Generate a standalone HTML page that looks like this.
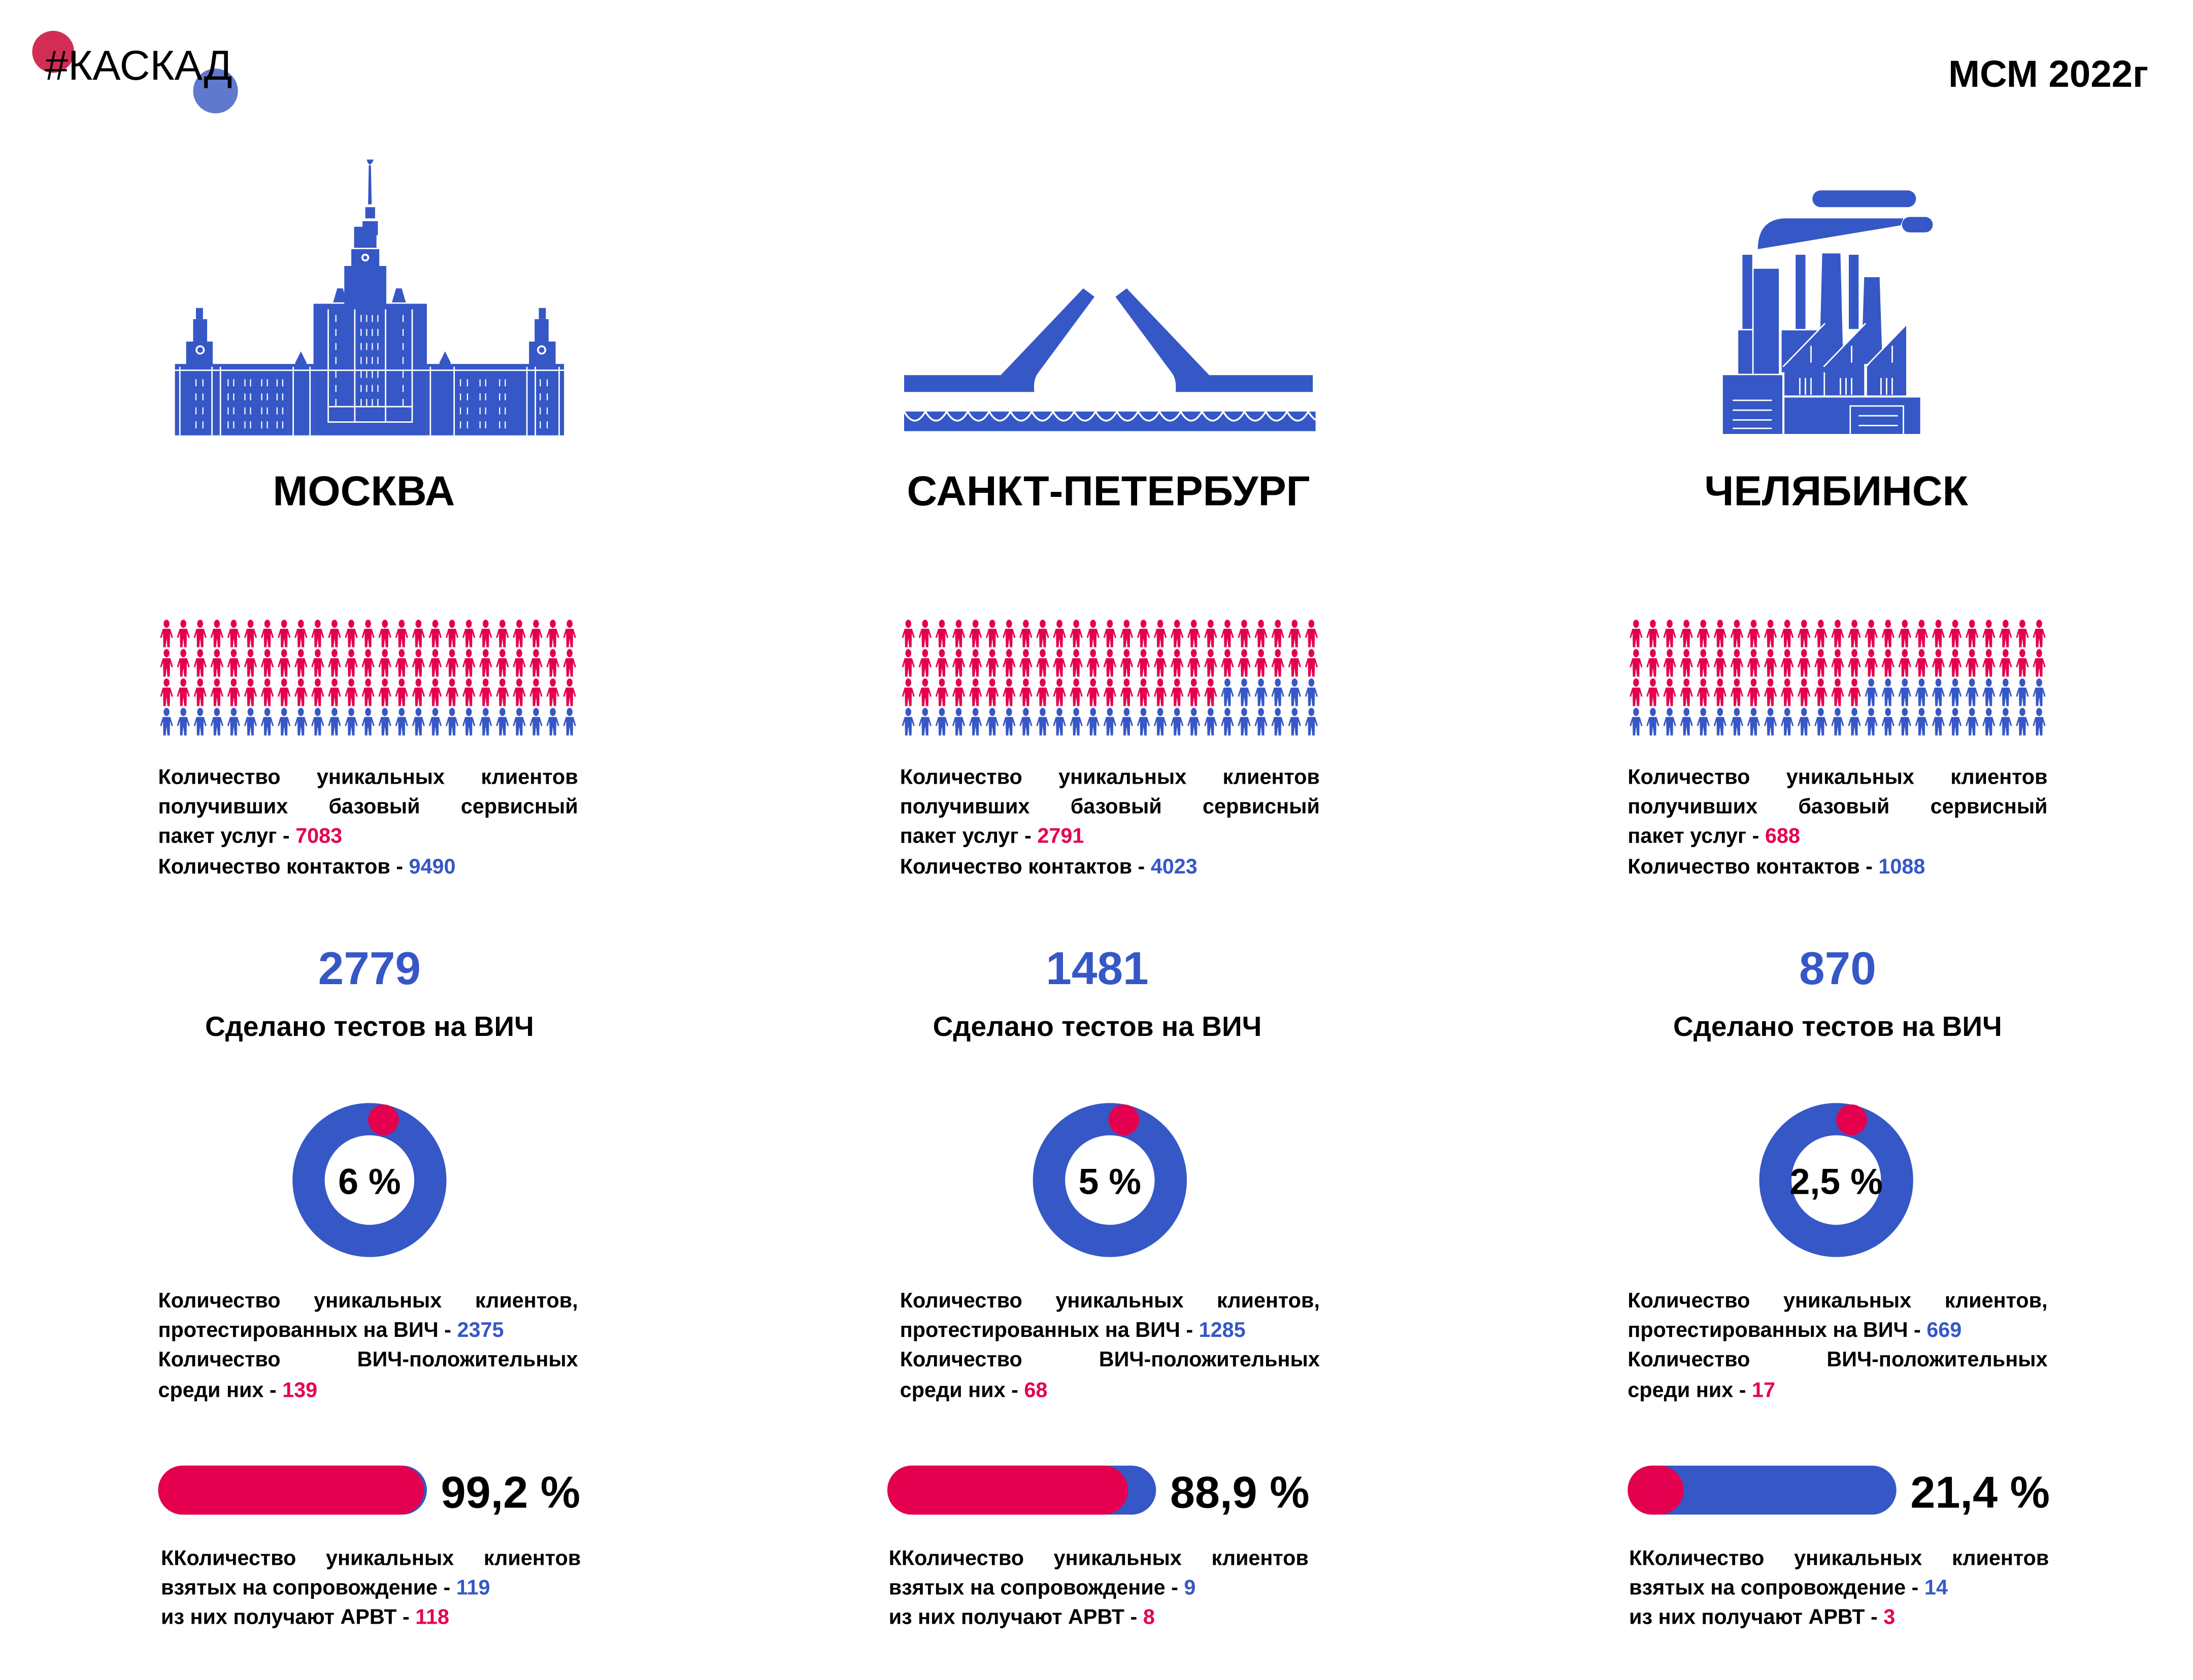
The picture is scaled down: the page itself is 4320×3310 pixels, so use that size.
<!DOCTYPE html>
<html><head><meta charset="utf-8">
<style>
html,body{margin:0;padding:0;background:#fff;width:4320px;height:3308px;overflow:hidden}
#r{position:absolute;left:0;top:0;width:1570px;height:1200px;transform:scale(2.757,2.758);transform-origin:0 0;font-family:"Liberation Sans","DejaVu Sans",sans-serif;color:#000}
.a{position:absolute}
.city{font-weight:bold;font-size:30px;text-align:center;width:500px;line-height:30px}
.p{position:absolute;width:300px;font-weight:bold;font-size:15px;line-height:21.2px}
.j{text-align:justify;text-align-last:justify;white-space:nowrap}
.p div{height:21.2px}
.b{color:#3657c6}.rd{color:#e4004f}
.num{position:absolute;width:300px;text-align:center;font-weight:bold;font-size:33px;color:#3657c6;line-height:34px}
.sub{position:absolute;width:300px;text-align:center;font-weight:bold;font-size:20px;line-height:24px}
.pct{position:absolute;font-weight:bold;font-size:32px;line-height:34px}
.dn{position:absolute;width:110px;text-align:center;font-weight:bold;font-size:26px;line-height:28px}
</style></head><body><div id="r">
<svg class="a" style="left:0;top:0" width="1570" height="1200" viewBox="0 0 1570 1200">
<defs>
<g id="man"><ellipse cx="6" cy="3.6" rx="2.1" ry="2.9"/><path d="M3.3,7.2 L8.7,7.2 L10.6,13.4 L9.6,13.8 L8.5,10.2 L8.3,20.4 L6.6,20.4 L6.1,14.6 L5.9,14.6 L5.4,20.4 L3.7,20.4 L3.5,10.2 L2.4,13.8 L1.4,13.4 Z"/></g>
<pattern id="pr" x="113" y="0" width="12" height="21" patternUnits="userSpaceOnUse"><use href="#man" fill="#e4004f"/></pattern>
<pattern id="pb" x="113" y="0" width="12" height="21" patternUnits="userSpaceOnUse"><use href="#man" fill="#3657c6"/></pattern>
<pattern id="pr2" x="643" y="0" width="12" height="21" patternUnits="userSpaceOnUse"><use href="#man" fill="#e4004f"/></pattern>
<pattern id="pb2" x="643" y="0" width="12" height="21" patternUnits="userSpaceOnUse"><use href="#man" fill="#3657c6"/></pattern>
<pattern id="pr3" x="1163" y="0" width="12" height="21" patternUnits="userSpaceOnUse"><use href="#man" fill="#e4004f"/></pattern>
<pattern id="pb3" x="1163" y="0" width="12" height="21" patternUnits="userSpaceOnUse"><use href="#man" fill="#3657c6"/></pattern>
</defs>
<circle cx="38" cy="37" r="15" fill="#d22e55"/>
<circle cx="154" cy="65" r="16" fill="#6079cc"/>
<text x="32" y="57" font-family="Liberation Sans, sans-serif" font-size="30">#КАСКАД</text>
<text x="1535" y="62" text-anchor="end" font-family="Liberation Sans, sans-serif" font-weight="bold" font-size="27">МСМ 2022г</text>

<g transform="translate(0,442)">
<rect x="113" y="0" width="300" height="63" fill="url(#pr)"/>
<rect x="113" y="63" width="300" height="21" fill="url(#pb)"/>
<rect x="643" y="0" width="300" height="42" fill="url(#pr2)"/>
<rect x="643" y="42" width="228" height="21" fill="url(#pr2)"/>
<rect x="871" y="42" width="72" height="21" fill="url(#pb2)"/>
<rect x="643" y="63" width="300" height="21" fill="url(#pb2)"/>
<rect x="1163" y="0" width="300" height="42" fill="url(#pr3)"/>
<rect x="1163" y="42" width="168" height="21" fill="url(#pr3)"/>
<rect x="1331" y="42" width="132" height="21" fill="url(#pb3)"/>
<rect x="1163" y="63" width="300" height="21" fill="url(#pb3)"/>
</g>

<g fill="#3657c6">
<path d="M262,114 Q264,121 267,114 Z"/>
<polygon points="263.5,118 265,118 265.6,146 263,146"/>
<rect x="261" y="148" width="7" height="8"/>
<rect x="259" y="158" width="11" height="10"/>
<rect x="253" y="162" width="16" height="15"/>
<rect x="251" y="178" width="20" height="39"/>
<rect x="246" y="190" width="8" height="27"/>
<rect x="268" y="190" width="8" height="27"/>
<polygon points="238,216 241,206 245,206 248,216"/>
<polygon points="280,216 283,206 287,206 290,216"/>
<rect x="224" y="217" width="81" height="94"/>
<rect x="125" y="260" width="99" height="51"/>
<rect x="305" y="260" width="98" height="51"/>
<rect x="133" y="244" width="19" height="18"/>
<rect x="378" y="244" width="19" height="18"/>
<rect x="138" y="228" width="10" height="16"/>
<rect x="382" y="228" width="10" height="16"/>
<rect x="140" y="220" width="5" height="8"/>
<rect x="385" y="220" width="5" height="8"/>
<polygon points="211,302 211,259 215,251 219,259 219,302"/>
<polygon points="314,302 314,259 318,251 322,259 322,302"/>
</g>
<g fill="#fff">
<circle cx="261" cy="184" r="2.8"/><circle cx="261" cy="184" r="1.4" fill="#3657c6"/>
<circle cx="143" cy="250" r="3.3"/><circle cx="143" cy="250" r="2" fill="#3657c6"/>
<circle cx="387" cy="250" r="3.3"/><circle cx="387" cy="250" r="2" fill="#3657c6"/>
<rect x="125" y="264" width="278" height="1"/>
<rect x="234" y="221" width="1" height="80"/><rect x="294" y="221" width="1" height="80"/>
<rect x="253" y="221" width="1" height="80"/><rect x="275" y="221" width="1" height="80"/>
<rect x="234" y="301" width="61" height="1"/><rect x="234" y="290" width="61" height="1"/>
<rect x="128" y="262" width="1" height="49"/><rect x="151" y="262" width="1" height="49"/>
<rect x="157" y="262" width="1" height="49"/><rect x="209" y="262" width="1" height="49"/>
<rect x="221" y="262" width="1" height="49"/><rect x="307" y="262" width="1" height="49"/>
<rect x="324" y="262" width="1" height="49"/><rect x="376" y="262" width="1" height="49"/>
<rect x="382" y="262" width="1" height="49"/><rect x="399" y="262" width="1" height="49"/>
</g>
<g stroke="#fff" stroke-width="0.8" stroke-dasharray="5,5" fill="none">
<path d="M240,225 V290 M258,225 V290 M262,225 V290 M266,225 V290 M270,225 V290 M288,225 V290"/>
<path d="M140,271 V310 M145,271 V310 M163,271 V310 M167,271 V310 M175,271 V310 M179,271 V310 M187,271 V310 M191,271 V310 M198,271 V310 M202,271 V310"/>
<path d="M329,271 V310 M334,271 V310 M343,271 V310 M347,271 V310 M357,271 V310 M361,271 V310 M386,271 V310 M391,271 V310"/>
</g>

<g fill="#3657c6">
<path d="M646,268 H715 L774,206 L782,212 L742,266 Q738,271 739,280 H646 Z"/>
<path d="M938,268 H864 L805,206 L797,212 L837,266 Q841,271 840,280 H938 Z"/>
<rect x="646" y="294" width="294" height="14"/>
</g>
<g fill="none" stroke="#fff" stroke-width="1.3">
<path d="M646,294 q7.6,13 15.2,0 q7.6,13 15.2,0 q7.6,13 15.2,0 q7.6,13 15.2,0 q7.6,13 15.2,0 q7.6,13 15.2,0 q7.6,13 15.2,0 q7.6,13 15.2,0 q7.6,13 15.2,0 q7.6,13 15.2,0 q7.6,13 15.2,0 q7.6,13 15.2,0 q7.6,13 15.2,0 q7.6,13 15.2,0 q7.6,13 15.2,0 q7.6,13 15.2,0 q7.6,13 15.2,0 q7.6,13 15.2,0 q7.6,13 15.2,0 q7.6,13 15.2,0"/>
</g>

<g fill="#3657c6">
<rect x="1295" y="136" width="74" height="12" rx="6"/>
<rect x="1359" y="155" width="22" height="11" rx="5.5"/>
<path d="M1256,178 Q1256,157 1275,156 H1360 L1358,161 Z"/>
<rect x="1245" y="182" width="7" height="53"/>
<rect x="1253" y="192" width="18" height="75"/>
<rect x="1283" y="182" width="7" height="53"/>
<polygon points="1302,181 1315,181 1317,260 1300,260"/>
<rect x="1321" y="182" width="7" height="53"/>
<polygon points="1332,198 1343,198 1345,260 1330,260"/>
<rect x="1242" y="236" width="10" height="31"/>
<rect x="1273" y="236" width="32" height="30"/>
<rect x="1231" y="268" width="43" height="42"/>
<rect x="1275" y="284" width="97" height="26"/>
<polygon points="1275,262 1303,232 1303,283 1275,283"/>
<polygon points="1304,262 1332,232 1332,283 1304,283"/>
<polygon points="1334,262 1362,232 1362,283 1334,283"/>
</g>
<g stroke="#fff" stroke-width="1" fill="none">
<path d="M1238,286 H1266 M1238,293 H1266 M1238,300 H1266 M1238,306 H1266"/>
<path d="M1274,262 L1304,231 M1303,262 L1333,231 M1333,262 L1363,231"/>
<path d="M1274,283 H1372 M1274,266 V310"/>
<path d="M1294,247 V259 M1323,247 V259 M1352,247 V259 M1286,270 V282 M1290,270 V282 M1294,270 V282 M1315,270 V282 M1319,270 V282 M1323,270 V282 M1344,270 V282 M1348,270 V282 M1352,270 V282"/>
<path d="M1322,310 V290 H1360 V310 M1328,297 H1356 M1328,304 H1356"/>
</g>

<g>
<circle cx="264" cy="843" r="43.5" fill="none" stroke="#3657c6" stroke-width="23"/>
<circle cx="274" cy="800" r="11" fill="#e4004f"/>
<circle cx="793" cy="843" r="43.5" fill="none" stroke="#3657c6" stroke-width="23"/>
<circle cx="803" cy="800" r="11" fill="#e4004f"/>
<circle cx="1312" cy="843" r="43.5" fill="none" stroke="#3657c6" stroke-width="23"/>
<circle cx="1323" cy="800" r="11" fill="#e4004f"/>
</g>
<rect x="113" y="1047" width="192" height="35" rx="17.5" fill="#3657c6"/>
<rect x="113" y="1047" width="190" height="35" rx="17.5" fill="#e4004f"/>
<rect x="634" y="1047" width="192" height="35" rx="17.5" fill="#3657c6"/>
<rect x="634" y="1047" width="172" height="35" rx="17.5" fill="#e4004f"/>
<rect x="1163" y="1047" width="192" height="35" rx="17.5" fill="#3657c6"/>
<rect x="1163" y="1047" width="40" height="35" rx="17.5" fill="#e4004f"/>
</svg>

<div class="a city" style="left:10px;top:337px">МОСКВА</div>
<div class="a city" style="left:542px;top:337px">САНКТ-ПЕТЕРБУРГ</div>
<div class="a city" style="left:1062px;top:337px">ЧЕЛЯБИНСК</div>

<div class="p" style="left:113px;top:545px"><div class="j">Количество уникальных клиентов</div><div class="j">получивших базовый сервисный</div><div>пакет услуг - <span class="rd">7083</span></div><div>Количество контактов - <span class="b">9490</span></div></div>
<div class="p" style="left:643px;top:545px"><div class="j">Количество уникальных клиентов</div><div class="j">получивших базовый сервисный</div><div>пакет услуг - <span class="rd">2791</span></div><div>Количество контактов - <span class="b">4023</span></div></div>
<div class="p" style="left:1163px;top:545px"><div class="j">Количество уникальных клиентов</div><div class="j">получивших базовый сервисный</div><div>пакет услуг - <span class="rd">688</span></div><div>Количество контактов - <span class="b">1088</span></div></div>

<div class="num" style="left:114px;top:675px">2779</div>
<div class="num" style="left:634px;top:675px">1481</div>
<div class="num" style="left:1163px;top:675px">870</div>
<div class="sub" style="left:114px;top:722px">Сделано тестов на ВИЧ</div>
<div class="sub" style="left:634px;top:722px">Сделано тестов на ВИЧ</div>
<div class="sub" style="left:1163px;top:722px">Сделано тестов на ВИЧ</div>

<div class="dn" style="left:209px;top:830px">6 %</div>
<div class="dn" style="left:738px;top:830px">5 %</div>
<div class="dn" style="left:1257px;top:830px">2,5 %</div>

<div class="p" style="left:113px;top:919px"><div class="j">Количество уникальных клиентов,</div><div>протестированных на ВИЧ - <span class="b">2375</span></div><div class="j">Количество ВИЧ-положительных</div><div>среди них - <span class="rd">139</span></div></div>
<div class="p" style="left:643px;top:919px"><div class="j">Количество уникальных клиентов,</div><div>протестированных на ВИЧ - <span class="b">1285</span></div><div class="j">Количество ВИЧ-положительных</div><div>среди них - <span class="rd">68</span></div></div>
<div class="p" style="left:1163px;top:919px"><div class="j">Количество уникальных клиентов,</div><div>протестированных на ВИЧ - <span class="b">669</span></div><div class="j">Количество ВИЧ-положительных</div><div>среди них - <span class="rd">17</span></div></div>

<div class="pct" style="left:315px;top:1049px">99,2 %</div>
<div class="pct" style="left:836px;top:1049px">88,9 %</div>
<div class="pct" style="left:1365px;top:1049px">21,4 %</div>

<div class="p" style="left:115px;top:1103px"><div class="j">ККоличество уникальных клиентов</div><div>взятых на сопровождение - <span class="b">119</span></div><div>из них получают АРВТ - <span class="rd">118</span></div></div>
<div class="p" style="left:635px;top:1103px"><div class="j">ККоличество уникальных клиентов</div><div>взятых на сопровождение - <span class="b">9</span></div><div>из них получают АРВТ - <span class="rd">8</span></div></div>
<div class="p" style="left:1164px;top:1103px"><div class="j">ККоличество уникальных клиентов</div><div>взятых на сопровождение - <span class="b">14</span></div><div>из них получают АРВТ - <span class="rd">3</span></div></div>
</div></body></html>
